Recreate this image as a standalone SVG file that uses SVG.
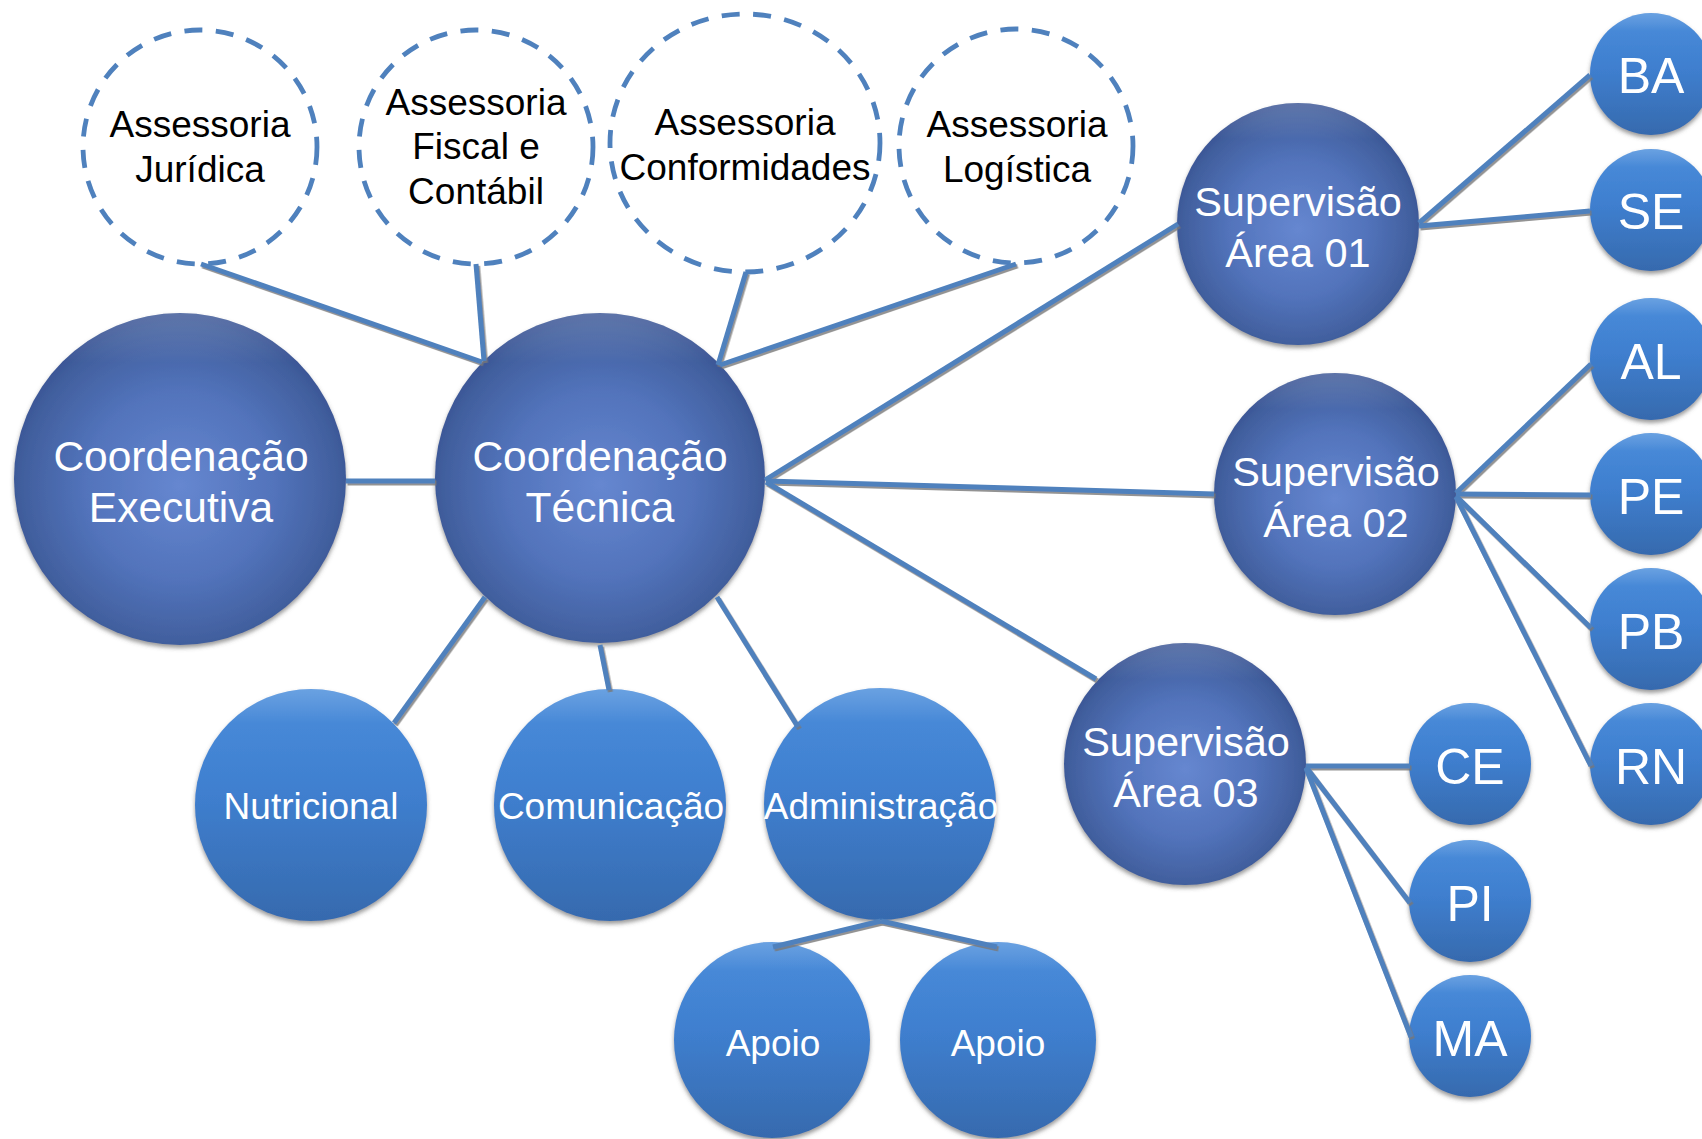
<svg xmlns="http://www.w3.org/2000/svg" width="1702" height="1139" viewBox="0 0 1702 1139">
<style>
text{font-family:"Liberation Sans",Arial,sans-serif;text-anchor:middle}
.dash{fill:#fff;stroke:#4f81bd;stroke-width:4.8;stroke-dasharray:18 13.5}
.dk{fill:url(#gDark);filter:url(#sh)}
.lt{fill:url(#gLight);filter:url(#sh)}
.rim{fill:url(#gRim)}
.tb{fill:#000;font-size:37px}
.tw{fill:#fff}
.f42{font-size:42.5px}
.f41{font-size:41.5px}
.f37{font-size:37px}
.f47{font-size:50px}
#connectors line{stroke:#4f81bd;stroke-width:5;stroke-linecap:butt}
</style>
<defs>
<radialGradient id="gDark" cx="50%" cy="52%" r="52%">
<stop offset="0" stop-color="#6687d0"/>
<stop offset="0.55" stop-color="#5273bb"/>
<stop offset="0.9" stop-color="#42609f"/>
<stop offset="1" stop-color="#3a5595"/>
</radialGradient>
<linearGradient id="gLight" x1="0" y1="0" x2="0" y2="1">
<stop offset="0" stop-color="#4a8ddb"/>
<stop offset="0.45" stop-color="#3f7fcf"/>
<stop offset="1" stop-color="#366aae"/>
</linearGradient>
<linearGradient id="gRim" x1="0" y1="0" x2="0" y2="1">
<stop offset="0" stop-color="#ffffff" stop-opacity="0.18"/>
<stop offset="0.15" stop-color="#ffffff" stop-opacity="0"/>
<stop offset="1" stop-color="#ffffff" stop-opacity="0"/>
</linearGradient>
<filter id="sh" x="-10%" y="-10%" width="120%" height="125%">
<feDropShadow dx="0" dy="3" stdDeviation="2" flood-color="#555" flood-opacity="0.6"/>
</filter>
<filter id="lsh" x="-5%" y="-5%" width="110%" height="110%">
<feDropShadow dx="1.5" dy="2" stdDeviation="0.6" flood-color="#777" flood-opacity="0.8"/>
</filter>
</defs>
<rect width="1702" height="1139" fill="#fff"/>

<g id="assessoria-juridica">
<circle class="dash" cx="200" cy="147" r="117"/>
<text class="tb" x="200" y="137">Assessoria</text>
<text class="tb" x="200" y="182">Jurídica</text>
</g>
<g id="assessoria-fiscal">
<circle class="dash" cx="476" cy="147" r="117"/>
<text class="tb" x="476" y="115">Assessoria</text>
<text class="tb" x="476" y="159">Fiscal e</text>
<text class="tb" x="476" y="204">Contábil</text>
</g>
<g id="assessoria-conformidades">
<ellipse class="dash" cx="745" cy="143" rx="135" ry="129"/>
<text class="tb" x="745" y="135">Assessoria</text>
<text class="tb" x="745" y="180">Conformidades</text>
</g>
<g id="assessoria-logistica">
<circle class="dash" cx="1016" cy="146" r="117"/>
<text class="tb" x="1017" y="137">Assessoria</text>
<text class="tb" x="1017" y="182">Logística</text>
</g>

<g id="coord-executiva">
<circle class="dk" cx="180" cy="479" r="166"/>
<circle class="rim" cx="180" cy="479" r="166"/>
<text class="tw f42" x="181" y="471">Coordenação</text>
<text class="tw f42" x="181" y="522">Executiva</text>
</g>
<g id="coord-tecnica">
<circle class="dk" cx="600" cy="478" r="165"/>
<circle class="rim" cx="600" cy="478" r="165"/>
<text class="tw f42" x="600" y="471">Coordenação</text>
<text class="tw f42" x="600" y="522">Técnica</text>
</g>
<g id="supervisao-01">
<circle class="dk" cx="1298" cy="224" r="121"/>
<circle class="rim" cx="1298" cy="224" r="121"/>
<text class="tw f41" x="1298" y="216">Supervisão</text>
<text class="tw f41" x="1298" y="267">Área 01</text>
</g>
<g id="supervisao-02">
<circle class="dk" cx="1335" cy="494" r="121"/>
<circle class="rim" cx="1335" cy="494" r="121"/>
<text class="tw f41" x="1336" y="486">Supervisão</text>
<text class="tw f41" x="1336" y="537">Área 02</text>
</g>
<g id="supervisao-03">
<circle class="dk" cx="1185" cy="764" r="121"/>
<circle class="rim" cx="1185" cy="764" r="121"/>
<text class="tw f41" x="1186" y="756">Supervisão</text>
<text class="tw f41" x="1186" y="807">Área 03</text>
</g>

<g id="nutricional">
<circle class="lt" cx="311" cy="805" r="116"/>
<circle class="rim" cx="311" cy="805" r="116"/>
<text class="tw f37" x="311" y="819">Nutricional</text>
</g>
<g id="comunicacao">
<circle class="lt" cx="610" cy="805" r="116"/>
<circle class="rim" cx="610" cy="805" r="116"/>
<text class="tw f37" x="611" y="819">Comunicação</text>
</g>
<g id="administracao">
<circle class="lt" cx="880" cy="804" r="116"/>
<circle class="rim" cx="880" cy="804" r="116"/>
<text class="tw f37" x="881" y="819">Administração</text>
</g>
<g id="apoio-1">
<circle class="lt" cx="772" cy="1040" r="98"/>
<circle class="rim" cx="772" cy="1040" r="98"/>
<text class="tw f37" x="773" y="1056">Apoio</text>
</g>
<g id="apoio-2">
<circle class="lt" cx="998" cy="1040" r="98"/>
<circle class="rim" cx="998" cy="1040" r="98"/>
<text class="tw f37" x="998" y="1056">Apoio</text>
</g>

<g id="ba">
<circle class="lt" cx="1651" cy="74" r="61"/>
<circle class="rim" cx="1651" cy="74" r="61"/>
<text class="tw f47" x="1651" y="93">BA</text>
</g>
<g id="se">
<circle class="lt" cx="1651" cy="210" r="61"/>
<circle class="rim" cx="1651" cy="210" r="61"/>
<text class="tw f47" x="1651" y="229">SE</text>
</g>
<g id="al">
<circle class="lt" cx="1651" cy="359" r="61"/>
<circle class="rim" cx="1651" cy="359" r="61"/>
<text class="tw f47" x="1651" y="379">AL</text>
</g>
<g id="pe">
<circle class="lt" cx="1651" cy="494" r="61"/>
<circle class="rim" cx="1651" cy="494" r="61"/>
<text class="tw f47" x="1651" y="514">PE</text>
</g>
<g id="pb">
<circle class="lt" cx="1651" cy="629" r="61"/>
<circle class="rim" cx="1651" cy="629" r="61"/>
<text class="tw f47" x="1651" y="649">PB</text>
</g>
<g id="rn">
<circle class="lt" cx="1651" cy="764" r="61"/>
<circle class="rim" cx="1651" cy="764" r="61"/>
<text class="tw f47" x="1651" y="784">RN</text>
</g>
<g id="ce">
<circle class="lt" cx="1470" cy="764" r="61"/>
<circle class="rim" cx="1470" cy="764" r="61"/>
<text class="tw f47" x="1470" y="784">CE</text>
</g>
<g id="pi">
<circle class="lt" cx="1470" cy="901" r="61"/>
<circle class="rim" cx="1470" cy="901" r="61"/>
<text class="tw f47" x="1470" y="921">PI</text>
</g>
<g id="ma">
<circle class="lt" cx="1470" cy="1036" r="61"/>
<circle class="rim" cx="1470" cy="1036" r="61"/>
<text class="tw f47" x="1470" y="1056">MA</text>
</g>

<g id="connectors" filter="url(#lsh)">
<line x1="201" y1="264" x2="482" y2="362"/>
<line x1="476" y1="264" x2="484" y2="361"/>
<line x1="746" y1="272" x2="718" y2="365"/>
<line x1="1016" y1="264" x2="720" y2="365"/>
<line x1="346" y1="481" x2="435" y2="481"/>
<line x1="765" y1="480" x2="1178" y2="224"/>
<line x1="766" y1="481" x2="1214" y2="494"/>
<line x1="766" y1="482" x2="1096" y2="679"/>
<line x1="485" y1="597" x2="394" y2="723"/>
<line x1="600" y1="645" x2="609" y2="690"/>
<line x1="717" y1="597" x2="798" y2="727"/>
<line x1="881" y1="921" x2="773" y2="947"/>
<line x1="881" y1="921" x2="997" y2="947"/>
<line x1="1419" y1="223" x2="1590" y2="75"/>
<line x1="1419" y1="226" x2="1590" y2="211"/>
<line x1="1456" y1="493" x2="1591" y2="364"/>
<line x1="1456" y1="494" x2="1591" y2="495"/>
<line x1="1456" y1="496" x2="1591" y2="628"/>
<line x1="1456" y1="497" x2="1591" y2="766"/>
<line x1="1306" y1="766" x2="1410" y2="766"/>
<line x1="1306" y1="767" x2="1410" y2="903"/>
<line x1="1306" y1="768" x2="1411" y2="1037"/>
</g>
</svg>
